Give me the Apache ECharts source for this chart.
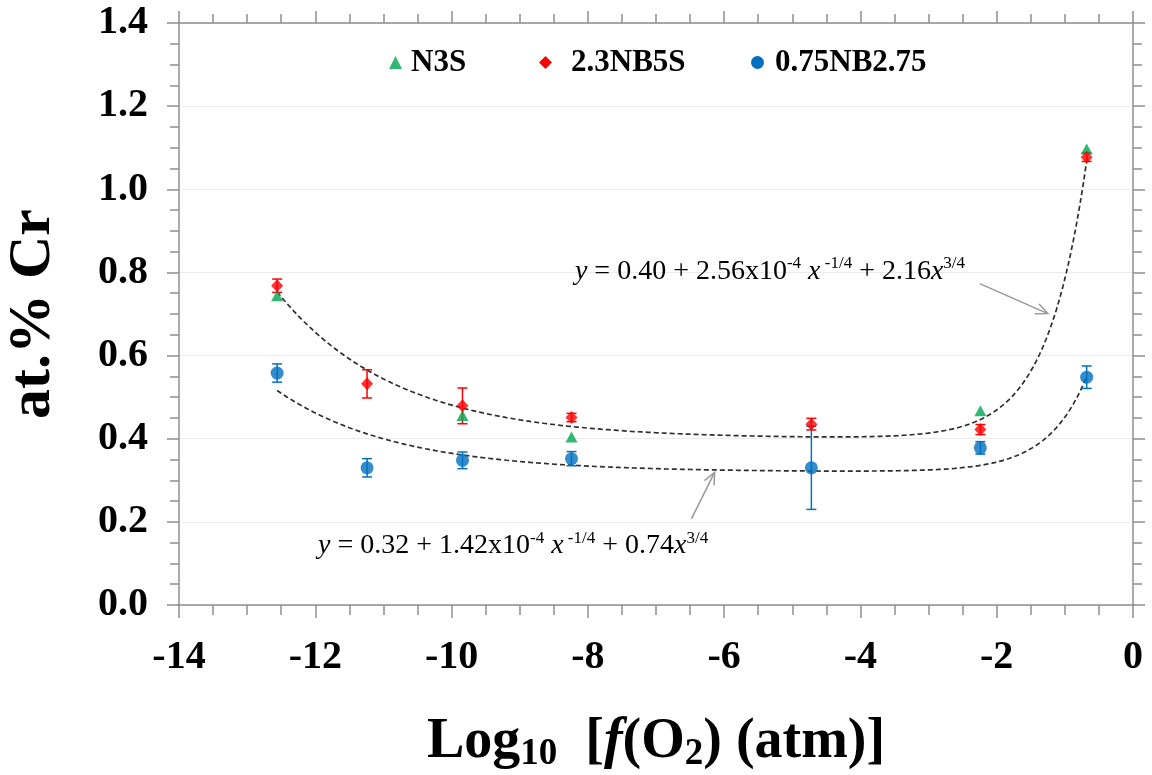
<!DOCTYPE html>
<html>
<head>
<meta charset="utf-8">
<script src="https://cdn.jsdelivr.net/npm/echarts@6/dist/echarts.min.js"></script>
<style>
  html, body { margin: 0; padding: 0; background: #ffffff; }
  #chart { width: 1152px; height: 775px; }
</style>
</head>
<body>
<div id="chart"></div>
<script>
// log10 of oxygen fugacity (atm) for each measured melt
const logfO2 = [-12.56, -11.24, -9.84, -8.24, -4.72, -2.24, -0.68];

// at.% Cr per glass (null where a glass was not measured)
const crN3S      = [0.744, null, 0.456, 0.404, null, 0.467, 1.097];
const cr23NB5S   = [0.768, 0.532, 0.479, 0.451, 0.435, 0.422, 1.077];
const cr075NB275 = [0.558, 0.330, 0.348, 0.352, 0.330, 0.378, 0.548];

// standard deviations
const err23NB5S   = [0.016, 0.034, 0.043, 0.010, 0.014, 0.012, 0.010];
const err075NB275 = [0.022, 0.022, 0.020, 0.017, 0.100, 0.015, 0.027];

// fitted model y = a + b*x^(-1/4) + c*x^(3/4), x = f(O2)
const fitUpper = [0.40, 2.56e-4, 2.16];
const fitLower = [0.32, 1.42e-4, 0.74];
const fitRange = [-12.56, -0.68];

// axis ticks
const xTicks = { min: -14, max: 0, interval: 2 };
const yTicks = { min: 0, max: 1.4, interval: 0.2 };

const SERIF = "'Liberation Serif', 'Times New Roman', serif";
const GREEN = '#00A651', RED = '#FF0000', BLUE = '#0070C0';

function points(ys) {
  const out = [];
  ys.forEach((v, i) => { if (v !== null) out.push([logfO2[i], v]); });
  return out;
}
function bars(ys, es) {
  return ys.map((v, i) => [logfO2[i], v, es[i]]);
}
function fitCurve(c) {
  const out = [];
  const n = 240;
  for (let k = 0; k <= n; k++) {
    const L = fitRange[0] + (fitRange[1] - fitRange[0]) * k / n;
    const f = Math.pow(10, L);
    out.push([L, c[0] + c[1] * Math.pow(f, -0.25) + c[2] * Math.pow(f, 0.75)]);
  }
  return out;
}
function errorBarItem(params, api) {
  const x = api.value(0), y = api.value(1), e = api.value(2);
  const top = api.coord([x, y + e]);
  const bot = api.coord([x, y - e]);
  const half = 5;
  const style = { stroke: api.visual('color'), lineWidth: 1.5, fill: null };
  return {
    type: 'group',
    children: [
      { type: 'line', shape: { x1: top[0], y1: top[1], x2: bot[0], y2: bot[1] }, style },
      { type: 'line', shape: { x1: top[0] - half, y1: top[1], x2: top[0] + half, y2: top[1] }, style },
      { type: 'line', shape: { x1: bot[0] - half, y1: bot[1], x2: bot[0] + half, y2: bot[1] }, style }
    ]
  };
}

const axisGray = '#8f8f8f';
function frameAxis(pos, ticks) {
  return {
    type: 'value',
    position: pos,
    min: ticks.min, max: ticks.max, interval: ticks.interval,
    axisLine: { show: true, onZero: false, lineStyle: { color: axisGray, width: 1.5 } },
    axisTick: { show: true, inside: false, length: 12, lineStyle: { color: axisGray, width: 1.5 } },
    minorTick: { show: true, splitNumber: 4, length: 9, lineStyle: { color: axisGray, width: 1.5 } },
    axisLabel: { show: false },
    splitLine: { show: false }
  };
}

function legendItem(name, icon, left, gap) {
  return {
    top: 47, left: left, padding: 0,
    itemWidth: 13, itemHeight: 13,
    textStyle: { fontFamily: SERIF, fontWeight: 'bold', fontSize: 31, color: '#000', padding: [0, 0, 0, gap] },
    data: [{ name: name, icon: icon }]
  };
}

const chart = echarts.init(document.getElementById('chart'), null, { renderer: 'canvas' });

const titleRich = {
  m: { fontFamily: SERIF, fontWeight: 'bold', fontSize: 56, lineHeight: 58, verticalAlign: 'top', color: '#000' },
  it: { fontFamily: SERIF, fontWeight: 'bold', fontStyle: 'italic', fontSize: 56, lineHeight: 58, verticalAlign: 'top', color: '#000' },
  s: { fontFamily: SERIF, fontWeight: 'bold', fontSize: 37, lineHeight: 37, padding: [30, 0, 0, 0], verticalAlign: 'bottom', color: '#000' }
};

const option = {
  backgroundColor: '#ffffff',
  animation: false,
  grid: { left: 179, right: 19, top: 23, bottom: 170, containLabel: false, outerBoundsMode: 'none' },
  legend: [
    legendItem('N3S', 'triangle', 389, 4),
    legendItem('2.3NB5S', 'diamond', 539, 14),
    legendItem('0.75NB2.75', 'circle', 751, 6)
  ],
  xAxis: [
    {
      type: 'value', position: 'bottom',
      min: xTicks.min, max: xTicks.max, interval: xTicks.interval,
      name: '{m|Log}{s|10}{m|  [}{it|f}{m|(O}{s|2}{m|) (atm)]}',
      nameLocation: 'middle', nameGap: 110,
      nameTextStyle: { fontFamily: SERIF, fontWeight: 'bold', fontSize: 56, color: '#000', rich: titleRich },
      axisLine: { show: true, onZero: false, lineStyle: { color: axisGray, width: 1.5 } },
      axisTick: { show: true, inside: false, length: 13, lineStyle: { color: axisGray, width: 1.5 } },
      minorTick: { show: true, splitNumber: 4, length: 10, lineStyle: { color: axisGray, width: 1.5 } },
      axisLabel: { margin: 33, fontFamily: SERIF, fontWeight: 'bold', fontSize: 40, color: '#000' },
      splitLine: { show: false }
    },
    frameAxis('top', xTicks)
  ],
  yAxis: [
    {
      type: 'value', position: 'left',
      min: yTicks.min, max: yTicks.max, interval: yTicks.interval,
      name: 'at.% Cr',
      nameLocation: 'middle', nameGap: 116,
      nameTextStyle: { fontFamily: SERIF, fontWeight: 'bold', fontSize: 60, color: '#000' },
      axisLine: { show: true, onZero: false, lineStyle: { color: axisGray, width: 1.5 } },
      axisTick: { show: true, inside: false, length: 12, lineStyle: { color: axisGray, width: 1.5 } },
      minorTick: { show: true, splitNumber: 4, length: 9, lineStyle: { color: axisGray, width: 1.5 } },
      axisLabel: {
        margin: 31, fontFamily: SERIF, fontWeight: 'bold', fontSize: 40, color: '#000',
        formatter: v => v.toFixed(1)
      },
      splitLine: { show: true, lineStyle: { color: '#ebebeb', width: 1 } }
    },
    frameAxis('right', yTicks)
  ],
  series: [
    {
      name: 'fit 2.3NB5S', type: 'line', data: fitCurve(fitUpper),
      showSymbol: false, symbol: 'none', smooth: false, z: 1,
      lineStyle: { color: '#2e2e2e', width: 1.7, type: [5, 3] }
    },
    {
      name: 'fit 0.75NB2.75', type: 'line', data: fitCurve(fitLower),
      showSymbol: false, symbol: 'none', smooth: false, z: 1,
      lineStyle: { color: '#2e2e2e', width: 1.7, type: [5, 3] }
    },
    {
      name: 'N3S', type: 'scatter', data: points(crN3S),
      symbol: 'triangle', symbolSize: [12, 11], itemStyle: { color: GREEN }, z: 3
    },
    {
      name: '2.3NB5S', type: 'custom', data: bars(cr23NB5S, err23NB5S),
      renderItem: errorBarItem, itemStyle: { color: RED }, encode: { x: 0, y: 1 }, z: 3
    },
    {
      name: '2.3NB5S', type: 'scatter', data: points(cr23NB5S),
      symbol: 'diamond', symbolSize: [12, 13], itemStyle: { color: RED }, z: 4
    },
    {
      name: '0.75NB2.75', type: 'custom', data: bars(cr075NB275, err075NB275),
      renderItem: errorBarItem, itemStyle: { color: BLUE }, encode: { x: 0, y: 1 }, z: 3
    },
    {
      name: '0.75NB2.75', type: 'scatter', data: points(cr075NB275),
      symbol: 'circle', symbolSize: 13, itemStyle: { color: BLUE }, z: 4
    }
  ]
};
chart.setOption(option);

// fit equations and pointer arrows, positioned in data space
const labelUpper = { at: [-8.19, 0.805], text: '{i|y}{n| = 0.40 + 2.56x10}{p|-4}{i| x}{p| -1/4}{n| + 2.16}{i|x}{p|3/4}' };
const labelLower = { at: [-11.96, 0.144], text: '{i|y}{n| = 0.32 + 1.42x10}{p|-4}{i| x}{p| -1/4}{n| + 0.74}{i|x}{p|3/4}' };
const arrowUpper = [[-2.25, 0.773], [-1.25, 0.701]];
const arrowLower = [[-6.48, 0.207], [-6.14, 0.319]];

const eqGray = '#8c8c8c';
const eqRich = {
  n: { fontFamily: SERIF, fontSize: 28, color: eqGray, verticalAlign: 'bottom', lineHeight: 30 },
  i: { fontFamily: SERIF, fontSize: 28, fontStyle: 'italic', color: eqGray, verticalAlign: 'bottom', lineHeight: 30 },
  p: { fontFamily: SERIF, fontSize: 17, color: eqGray, verticalAlign: 'top', lineHeight: 18 }
};

function px(p) { return chart.convertToPixel({ gridIndex: 0 }, p); }

function arrowShapes(a) {
  const s = px(a[0]), e = px(a[1]);
  const ang = Math.atan2(e[1] - s[1], e[0] - s[0]);
  const len = 13, spread = 0.42;
  const h1 = [e[0] - len * Math.cos(ang - spread), e[1] - len * Math.sin(ang - spread)];
  const h2 = [e[0] - len * Math.cos(ang + spread), e[1] - len * Math.sin(ang + spread)];
  const style = { stroke: '#999999', lineWidth: 1.5, fill: null };
  return [
    { type: 'line', shape: { x1: s[0], y1: s[1], x2: e[0], y2: e[1] }, style, z: 10 },
    { type: 'polyline', shape: { points: [h1, e, h2] }, style, z: 10 }
  ];
}
function eqText(lbl) {
  const p = px(lbl.at);
  return {
    type: 'text', x: p[0], y: p[1], z: 10,
    style: { text: lbl.text, rich: eqRich, verticalAlign: 'middle', align: 'left' }
  };
}

chart.setOption({
  graphic: [
    eqText(labelUpper),
    eqText(labelLower),
    ...arrowShapes(arrowUpper),
    ...arrowShapes(arrowLower)
  ]
});
</script>
</body>
</html>
